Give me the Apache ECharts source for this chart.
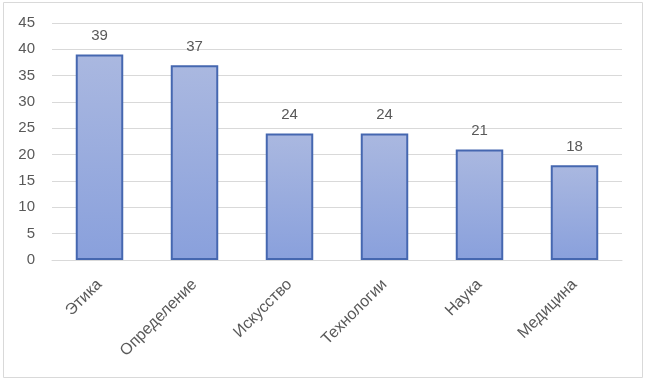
<!DOCTYPE html>
<html><head><meta charset="utf-8">
<script src="https://cdn.jsdelivr.net/npm/echarts@6/dist/echarts.min.js"></script>
<style>html,body{margin:0;padding:0;background:#fff}#c{width:646px;height:382px}</style>
</head><body><div id="c"></div>
<script>
const categories = ["Этика","Определение","Искусство","Технологии","Наука","Медицина"];
const values = [39,37,24,24,21,18];
const yTicks = {min:0,max:45,interval:5};
const chart = echarts.init(document.getElementById('c'), null, {renderer:'canvas'});
chart.setOption({
  animation:false,
  graphic:[{type:'rect',shape:{x:3.5,y:2.5,width:639,height:375},style:{fill:'none',stroke:'#d9d9d9',lineWidth:1}}],
  grid:{left:52,right:24,top:23,bottom:122},
  xAxis:{type:'category',data:categories,
    axisLine:{lineStyle:{color:'#d9d9d9',width:1}},axisTick:{show:false},
    axisLabel:{rotate:45,color:'#595959',fontFamily:'Liberation Sans, Arial',fontSize:16,margin:22,interval:0}},
  yAxis:{type:'value',min:yTicks.min,max:yTicks.max,interval:yTicks.interval,
    axisLine:{show:false},axisTick:{show:false},
    splitLine:{lineStyle:{color:'#d9d9d9',width:1}},
    axisLabel:{color:'#595959',fontFamily:'Liberation Sans, Arial',fontSize:15,margin:17}},
  series:[{type:'bar',data:values,barCategoryGap:'50%',
    itemStyle:{color:new echarts.graphic.LinearGradient(0,0,0,1,[{offset:0,color:'#aab8e0'},{offset:1,color:'#89a0dc'}]),
      borderColor:'#4567b0',borderWidth:2},
    label:{show:true,position:'top',distance:11,color:'#595959',fontFamily:'Liberation Sans, Arial',fontSize:15}}]
});
</script></body></html>
